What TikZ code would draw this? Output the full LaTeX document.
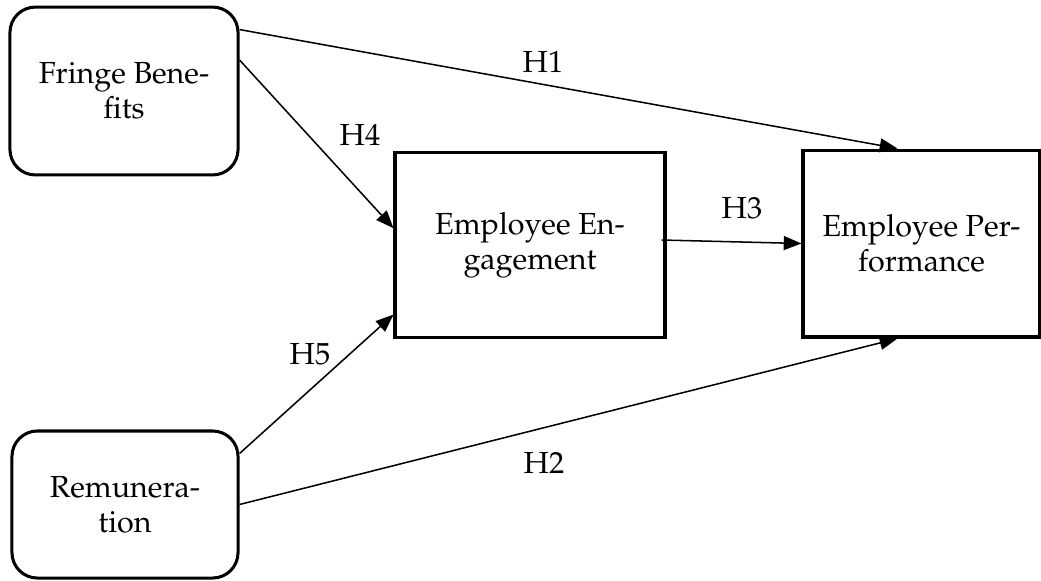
\documentclass[tikz,border=0pt]{standalone}
\usepackage[T1]{fontenc}
\usepackage{mathpazo}
\usepackage{tikz}
\usetikzlibrary{calc,arrows.meta}

\begin{document}
\begin{tikzpicture}[x=0.3937pt,y=-0.3937pt,
    font=\fontsize{12}{13.8}\selectfont,
    var/.style={draw,line width=1.2pt,rounded corners=10pt,align=center,inner sep=0pt},
    box/.style={draw,line width=1.2pt,align=center,inner sep=0pt},
    hyp/.style={line width=0.6pt,-{Triangle[length=7pt,width=5.5pt]}}]
                 \useasboundingbox (0,0) rectangle (1041,580);
                 \node[var,minimum width=89.8pt,minimum height=66.1pt](fringe)at(124,91){Fringe Bene-\\fits};
                 \node[var,minimum width=89pt,minimum height=57.9pt](remun)at(125,504.5){Remunera-\\tion};
                 \node[box,minimum width=106.3pt,minimum height=73.2pt](engage)at(530,245){Employee En-\\gagement};
                 \node[box,minimum width=93.3pt,minimum height=73.6pt](perform)at(921.5,243.5){Employee Per-\\formance};
                 \draw[hyp](fringe.28)--($(perform.north)+(-24,0)$);
                 \draw[hyp](fringe.15)--(engage.173);
                 \draw[hyp]($(engage.east)+(-5,-5)$)--(perform.west);
                 \draw[hyp](remun.east)--($(perform.south)+(-24,0)$);
                 \draw[hyp](remun.24)--(engage.207);
                 \node(h1)at(543,62){H1};
                 \node(h2)at(544,463){H2};
                 \node(h3)at(742,208){H3};
                 \node(h4)at(360,135){H4};
                 \node(h5)at(310,354){H5};
               \end{tikzpicture}
\end{document}
